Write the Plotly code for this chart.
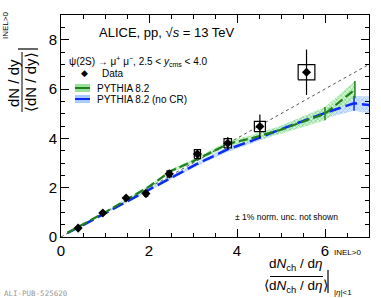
import plotly.graph_objects as go

# ---------------- data ----------------
data_x = [0.39, 0.95, 1.48, 1.93, 2.46, 3.10, 3.79, 4.52, 5.58]
data_y = [0.36, 0.97, 1.58, 1.76, 2.56, 3.36, 3.80, 4.48, 6.68]
data_stat = [0.06, 0.08, 0.10, 0.10, 0.12, 0.15, 0.25, 0.49, 0.92]
data_sys_y = [0.04, 0.06, 0.08, 0.10, 0.12, 0.18, 0.19, 0.21, 0.31]
data_sys_x = [0.01, 0.02, 0.03, 0.04, 0.05, 0.07, 0.085, 0.125, 0.19]

pyth_x = [0.15, 0.5, 1.0, 1.5, 2.0, 2.5, 3.0, 3.8, 4.3, 5.0, 6.0, 6.68]
pyth_y = [0.17, 0.50, 1.00, 1.52, 2.04, 2.68, 3.07, 3.78, 3.99, 4.35, 5.00, 5.98]
pyth_err = [0.02, 0.03, 0.04, 0.05, 0.06, 0.07, 0.08, 0.10, 0.12, 0.16, 0.27, 0.34]

nocr_x = [0.15, 0.5, 1.0, 1.5, 2.0, 2.5, 3.08, 3.77, 4.3, 5.0, 6.0, 6.66, 7.3]
nocr_y = [0.17, 0.48, 0.96, 1.44, 1.93, 2.40, 2.95, 3.54, 3.88, 4.37, 5.03, 5.42, 5.30]
nocr_err = [0.02, 0.03, 0.04, 0.05, 0.06, 0.07, 0.08, 0.10, 0.12, 0.15, 0.22, 0.30, 0.40]

diag_x = [0, 7]

x_ticks = [0, 2, 4, 6]
y_ticks = [0, 2, 4, 6, 8]

# ---------------- layout helpers ----------------
W, H = 381, 298
L, R, T, B = 61, 369, 15, 237


def px(x):
    return (x - L) / (R - L)


def py(y):
    return (B - y) / (B - T)


FONT = "Liberation Sans, Arial, Helvetica, sans-serif"
GREEN = "#1f7f1f"
BLUE = "#0a2cf5"

fig = go.Figure()


def band(xs, ys, es, fg, bg):
    up = [y + e for y, e in zip(ys, es)]
    lo = [y - e for y, e in zip(ys, es)]
    return go.Scatter(
        x=list(xs) + list(xs)[::-1], y=up + lo[::-1],
        fill="toself", mode="lines", line=dict(width=0),
        fillcolor=bg,
        fillpattern=dict(shape="x", size=3, solidity=0.45, fgcolor=fg, bgcolor=bg),
        hoverinfo="skip", showlegend=False)


def visible_err(errs, threshold=0.25):
    return [e if e >= threshold else 0 for e in errs]


fig.add_trace(band(nocr_x, nocr_y, nocr_err, "#5a9cff", "rgba(205,225,255,0.8)"))
fig.add_trace(band(pyth_x, pyth_y, pyth_err, "#2fbf2f", "rgba(205,245,205,0.8)"))

# diagonal
fig.add_trace(go.Scatter(x=diag_x, y=diag_x, mode="lines",
                         line=dict(color="#555555", width=1, dash="dot"),
                         showlegend=False, hoverinfo="skip"))

# PYTHIA curves
fig.add_trace(go.Scatter(x=nocr_x, y=nocr_y, mode="lines",
                         line=dict(color=BLUE, width=2.5, dash="12px,5px"),
                         error_y=dict(type="data", array=visible_err(nocr_err), color=BLUE,
                                      thickness=1.5, width=0),
                         showlegend=False))
fig.add_trace(go.Scatter(x=pyth_x, y=pyth_y, mode="lines",
                         line=dict(color=GREEN, width=2.2, dash="9px,4px"),
                         error_y=dict(type="data", array=visible_err(pyth_err), color=GREEN,
                                      thickness=1.5, width=0),
                         showlegend=False))

# systematic boxes
bx, by = [], []
for x, y, dx, dy in zip(data_x, data_y, data_sys_x, data_sys_y):
    bx += [x - dx, x + dx, x + dx, x - dx, x - dx, None]
    by += [y - dy, y - dy, y + dy, y + dy, y - dy, None]
fig.add_trace(go.Scatter(x=bx, y=by, mode="lines", line=dict(color="black", width=1.2),
                         showlegend=False, hoverinfo="skip"))

# data points
fig.add_trace(go.Scatter(x=data_x, y=data_y, mode="markers",
                         marker=dict(symbol="diamond", size=7, color="black"),
                         error_y=dict(type="data", array=data_stat, color="black", thickness=1.2, width=0),
                         showlegend=False))

axis_common = dict(showline=True, linecolor="black", linewidth=1, mirror="allticks",
                   ticks="inside", ticklen=8, tickcolor="black", tickwidth=1,
                   showgrid=False, zeroline=False,
                   tickfont=dict(family=FONT, size=15, color="black"))

fig.update_xaxes(range=[0, 7], tickvals=x_ticks, ticktext=[str(v) for v in x_ticks],
                 minor=dict(ticks="inside", ticklen=4, dtick=0.5, tick0=0, tickcolor="black", showgrid=False),
                 **axis_common)
fig.update_yaxes(range=[0, 9], tickvals=y_ticks, ticktext=[str(v) for v in y_ticks],
                 minor=dict(ticks="inside", ticklen=4, dtick=0.5, tick0=0, tickcolor="black", showgrid=False),
                 **axis_common)

ann = []
shapes = []


def text(xp, yp, s, size, xanchor="left", yanchor="middle", angle=0, color="black", family=FONT):
    ann.append(dict(x=px(xp), y=py(yp), xref="paper", yref="paper", text=s, showarrow=False,
                    xanchor=xanchor, yanchor=yanchor, textangle=angle,
                    font=dict(family=family, size=size, color=color)))


def seg(x0, y0, x1, y1, color="black", width=1):
    shapes.append(dict(type="line", xref="paper", yref="paper", x0=px(x0), y0=py(y0),
                       x1=px(x1), y1=py(y1), line=dict(color=color, width=width)))


# header texts
text(97, 32, "ALICE, pp, \u221a<i>s</i> = 13 TeV", 13)
text(67, 61, "\u03c8(2S) \u2192 \u03bc<sup>+</sup> \u03bc<sup>\u2212</sup>, 2.5 < <i>y</i><sub>cms</sub> < 4.0", 10)

# manual legend
text(84, 73, "\u25c6", 9, xanchor="center")
text(100, 73, "Data", 10)
shapes.append(dict(type="rect", xref="paper", yref="paper", x0=px(75), x1=px(90), y0=py(92), y1=py(84),
                   line=dict(width=0), fillcolor="rgba(120,215,120,0.75)"))
seg(75, 88, 90, 88, GREEN, 2)
text(95, 88, "PYTHIA 8.2", 10)
shapes.append(dict(type="rect", xref="paper", yref="paper", x0=px(75), x1=px(90), y0=py(103), y1=py(95),
                   line=dict(width=0), fillcolor="rgba(140,185,255,0.75)"))
seg(75, 99, 90, 99, BLUE, 2)
text(95, 99, "PYTHIA 8.2 (no CR)", 10)

text(286, 217, "\u00b1 1% norm. unc. not shown", 8.5, xanchor="center")

# x-axis title (fraction)
text(296, 264, "d<i>N</i><sub>ch</sub> / d<i>\u03b7</i>", 13.5, xanchor="center")
seg(270, 276.5, 323, 276.5, width=1)
text(296, 286, "\u27e8d<i>N</i><sub>ch</sub> / d<i>\u03b7</i>\u27e9", 13.5, xanchor="center")
seg(328, 270, 328, 293, width=1.2)
text(332, 253, "INEL>0", 8)
text(332, 292, "|<i>\u03b7</i>|<1", 8)

# y-axis title (rotated fraction)
text(13, 83, "dN / dy", 15, xanchor="center", angle=-90)
seg(22, 52, 22, 112, width=1)
text(30, 82, "\u27e8dN / dy\u27e9", 15, xanchor="center", angle=-90)
seg(18, 49, 38, 49, width=1.2)
text(5, 26, "INEL>0", 8, xanchor="center", angle=-90)

# footer
text(2, 293, "ALI-PUB-525620", 7.5, color="#999999", family="DejaVu Sans Mono, monospace")

fig.update_layout(width=W, height=H, margin=dict(l=L, r=W - R, t=T, b=H - B),
                  plot_bgcolor="white", paper_bgcolor="white",
                  annotations=ann, shapes=shapes, showlegend=False)

fig.write_html("out.html", config={"displayModeBar": False},
               post_script="document.body.style.margin='0';document.body.style.overflow='hidden';")
